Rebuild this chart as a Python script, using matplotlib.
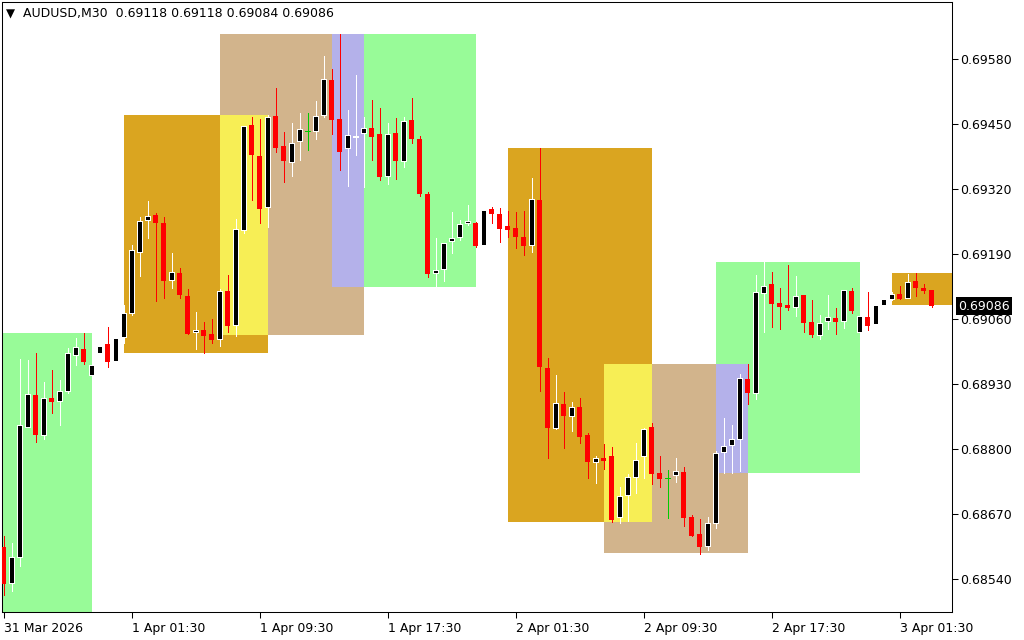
import numpy as np
import matplotlib.pyplot as plt
from matplotlib.patches import Rectangle
from matplotlib.transforms import blended_transform_factory

plt.rcParams['font.family'] = ['DejaVu Sans']

symbol = 'AUDUSD,M30'

# M30 candles, oldest first (31 Mar 17:30 onwards)
opens = [0.68604, 0.68532, 0.68584, 0.68844, 0.68908, 0.68828, 0.68902, 0.68896, 0.68916, 0.68988,
         0.69000, 0.68948, 0.68992, 0.69010, 0.68976, 0.69024, 0.69072, 0.69194, 0.69258, 0.69268,
         0.69252, 0.69138, 0.69152, 0.69106, 0.69034, 0.69038, 0.69030, 0.69020, 0.69116, 0.69048,
         0.69238, 0.69448, 0.69386, 0.69284, 0.69466, 0.69406, 0.69374, 0.69416, 0.69436, 0.69436,
         0.69468, 0.69538, 0.69460, 0.69402, 0.69424, 0.69432, 0.69442, 0.69430, 0.69346, 0.69432,
         0.69376, 0.69458, 0.69420, 0.69310, 0.69152, 0.69160, 0.69216, 0.69224, 0.69252, 0.69252,
         0.69208, 0.69280, 0.69270, 0.69246, 0.69242, 0.69224, 0.69208, 0.69298, 0.68962, 0.68842,
         0.68890, 0.68866, 0.68884, 0.68828, 0.68774, 0.68782, 0.68786, 0.68664, 0.68708, 0.68744,
         0.68786, 0.68844, 0.68752, 0.68742, 0.68748, 0.68754, 0.68664, 0.68630, 0.68606, 0.68652,
         0.68794, 0.68808, 0.68820, 0.68940, 0.68912, 0.69112, 0.69130, 0.69092, 0.69088, 0.69084,
         0.69108, 0.69054, 0.69028, 0.69056, 0.69062, 0.69056, 0.69116, 0.69034, 0.69064, 0.69050,
         0.69088, 0.69100, 0.69110, 0.69102, 0.69136, 0.69122, 0.69118]
highs = [0.68626, 0.68612, 0.68980, 0.68978, 0.68992, 0.68934, 0.68958, 0.68938, 0.69002, 0.69022,
         0.69032, 0.68970, 0.69008, 0.69044, 0.69024, 0.69088, 0.69208, 0.69264, 0.69296, 0.69272,
         0.69264, 0.69192, 0.69162, 0.69120, 0.69074, 0.69054, 0.69060, 0.69120, 0.69148, 0.69260,
         0.69446, 0.69464, 0.69460, 0.69468, 0.69522, 0.69434, 0.69452, 0.69472, 0.69472, 0.69496,
         0.69586, 0.69560, 0.69630, 0.69478, 0.69548, 0.69464, 0.69498, 0.69482, 0.69452, 0.69462,
         0.69464, 0.69502, 0.69426, 0.69314, 0.69222, 0.69212, 0.69274, 0.69258, 0.69288, 0.69254,
         0.69280, 0.69284, 0.69282, 0.69276, 0.69274, 0.69276, 0.69342, 0.69402, 0.68982, 0.68948,
         0.68914, 0.68894, 0.68902, 0.68832, 0.68786, 0.68810, 0.68804, 0.68724, 0.68750, 0.68812,
         0.68842, 0.68852, 0.68786, 0.68758, 0.68782, 0.68764, 0.68668, 0.68660, 0.68664, 0.68796,
         0.68862, 0.68848, 0.68950, 0.68970, 0.69148, 0.69174, 0.69154, 0.69122, 0.69168, 0.69146,
         0.69108, 0.69098, 0.69068, 0.69108, 0.69082, 0.69118, 0.69122, 0.69068, 0.69114, 0.69090,
         0.69102, 0.69114, 0.69126, 0.69150, 0.69152, 0.69130, 0.69118]
lows = [0.68508, 0.68516, 0.68566, 0.68844, 0.68814, 0.68820, 0.68872, 0.68848, 0.68912, 0.68968,
        0.68970, 0.68946, 0.68990, 0.68964, 0.68974, 0.69012, 0.69068, 0.69146, 0.69222, 0.69096,
        0.69102, 0.69122, 0.69102, 0.69030, 0.69000, 0.68992, 0.69012, 0.69006, 0.69034, 0.69026,
        0.69232, 0.69298, 0.69252, 0.69244, 0.69394, 0.69334, 0.69346, 0.69378, 0.69398, 0.69420,
        0.69464, 0.69430, 0.69358, 0.69326, 0.69388, 0.69324, 0.69378, 0.69338, 0.69330, 0.69340,
        0.69364, 0.69412, 0.69306, 0.69144, 0.69124, 0.69136, 0.69192, 0.69218, 0.69248, 0.69204,
        0.69206, 0.69252, 0.69214, 0.69224, 0.69202, 0.69188, 0.69194, 0.68916, 0.68782, 0.68840,
        0.68802, 0.68836, 0.68812, 0.68742, 0.68732, 0.68760, 0.68654, 0.68652, 0.68656, 0.68712,
        0.68742, 0.68730, 0.68724, 0.68662, 0.68734, 0.68646, 0.68626, 0.68590, 0.68598, 0.68642,
        0.68752, 0.68752, 0.68756, 0.68890, 0.68900, 0.69034, 0.69044, 0.69040, 0.69078, 0.69066,
        0.69034, 0.69024, 0.69020, 0.69040, 0.69030, 0.69042, 0.69072, 0.69032, 0.69038, 0.69048,
        0.69086, 0.69098, 0.69100, 0.69102, 0.69106, 0.69112, 0.69084]
closes = [0.68530, 0.68584, 0.68848, 0.68910, 0.68828, 0.68902, 0.68894, 0.68916, 0.68992, 0.69004,
          0.68974, 0.68968, 0.69006, 0.68974, 0.69022, 0.69072, 0.69198, 0.69256, 0.69266, 0.69252,
          0.69136, 0.69154, 0.69108, 0.69030, 0.69038, 0.69026, 0.69018, 0.69116, 0.69046, 0.69240,
          0.69446, 0.69388, 0.69280, 0.69464, 0.69402, 0.69376, 0.69412, 0.69440, 0.69436, 0.69466,
          0.69540, 0.69458, 0.69394, 0.69428, 0.69426, 0.69442, 0.69424, 0.69344, 0.69430, 0.69376,
          0.69456, 0.69420, 0.69310, 0.69150, 0.69158, 0.69212, 0.69222, 0.69250, 0.69256, 0.69206,
          0.69278, 0.69270, 0.69240, 0.69238, 0.69224, 0.69206, 0.69300, 0.68964, 0.68842, 0.68892,
          0.68866, 0.68884, 0.68824, 0.68774, 0.68782, 0.68776, 0.68658, 0.68706, 0.68744, 0.68778,
          0.68840, 0.68750, 0.68740, 0.68742, 0.68756, 0.68662, 0.68626, 0.68604, 0.68652, 0.68792,
          0.68806, 0.68820, 0.68942, 0.68912, 0.69114, 0.69126, 0.69090, 0.69084, 0.69082, 0.69106,
          0.69052, 0.69028, 0.69052, 0.69064, 0.69054, 0.69118, 0.69076, 0.69066, 0.69046, 0.69088,
          0.69100, 0.69110, 0.69100, 0.69134, 0.69122, 0.69116, 0.69086]

# session boxes (bar index range, high, low)
asia_start = [15, 63, 111]
asia_end = [33, 81, 129]
asia_high = [0.69468, 0.69402, 0.69152]
asia_low = [0.68992, 0.68654, 0.69088]

london_start = [27, 75]
london_end = [45, 93]
london_high = [0.69630, 0.68970]
london_low = [0.69028, 0.68592]

ny_start = [-7, 41, 89]
ny_end = [11, 59, 107]
ny_high = [0.69032, 0.69630, 0.69174]
ny_low = [0.68430, 0.69124, 0.68752]

time_ticks = [0, 16, 32, 48, 64, 80, 96, 112]
time_labels = ['31 Mar 2026', '1 Apr 01:30', '1 Apr 09:30', '1 Apr 17:30',
               '2 Apr 01:30', '2 Apr 09:30', '2 Apr 17:30', '3 Apr 01:30']
price_ticks = [0.68540, 0.68670, 0.68800, 0.68930, 0.69060, 0.69190, 0.69320, 0.69450, 0.69580]

c_asia = '#DAA520'
c_london = '#D2B48C'
c_ny = '#98FB98'
c_asia_london = '#F7EE55'
c_london_ny = '#B4B1EA'

W, H = 1024, 640
fig = plt.figure(figsize=(W / 100, H / 100), dpi=100)
ax = fig.add_axes([2 / W, 28 / H, 950 / W, 610 / H])
ax.set_xlim((2 - 3.5) / 8, (952 - 3.5) / 8)
ax.set_ylim(0.68474, 0.69694)


def box(x0, x1, lo, hi, color, z):
    ax.add_patch(Rectangle((x0, lo), x1 - x0, hi - lo, facecolor=color,
                           edgecolor='none', zorder=z, antialiased=False))


for s, e, hi, lo in zip(asia_start, asia_end, asia_high, asia_low):
    box(s, e, lo, hi, c_asia, 1)
for s, e, hi, lo in zip(london_start, london_end, london_high, london_low):
    box(s, e, lo, hi, c_london, 1)
for s, e, hi, lo in zip(ny_start, ny_end, ny_high, ny_low):
    box(s, e, lo, hi, c_ny, 1)


# overlaps get their own colour
def overlaps(a, b, color):
    for s1, e1, h1, l1 in zip(*a):
        for s2, e2, h2, l2 in zip(*b):
            x0, x1 = max(s1, s2), min(e1, e2)
            lo, hi = max(l1, l2), min(h1, h2)
            if x1 > x0 and hi > lo:
                box(x0, x1, lo, hi, color, 2)


overlaps((asia_start, asia_end, asia_high, asia_low),
         (london_start, london_end, london_high, london_low), c_asia_london)
overlaps((london_start, london_end, london_high, london_low),
         (ny_start, ny_end, ny_high, ny_low), c_london_ny)

# candles
o = np.array(opens)
h = np.array(highs)
l = np.array(lows)
c = np.array(closes)
x = np.arange(len(o))
up = c > o
dn = c < o
dj = c == o
lw = 0.6

ax.vlines(x[up], l[up], h[up], color='white', lw=lw, zorder=3, antialiased=False)
ax.vlines(x[dn], l[dn], h[dn], color='red', lw=lw, zorder=3, antialiased=False)
ax.vlines(x[dj], l[dj], h[dj], color='#00CC00', lw=lw, zorder=3, antialiased=False)
ax.bar(x[up], c[up] - o[up], bottom=o[up], width=0.6, color='black',
       edgecolor='white', linewidth=lw, zorder=4, antialiased=False)
ax.bar(x[dn], o[dn] - c[dn], bottom=c[dn], width=0.66, color='red',
       edgecolor='none', zorder=4, antialiased=False)
ax.hlines(c[dj], x[dj] - 0.33, x[dj] + 0.33, color='#00CC00', lw=lw, zorder=4,
          antialiased=False)

# axes look
for side in ['left', 'right', 'bottom', 'top']:
    ax.spines[side].set_linewidth(0.75)
    ax.spines[side].set_color('black')
ax.yaxis.tick_right()
ax.set_yticks(price_ticks)
ax.set_yticklabels(['%.5f' % p for p in price_ticks])
ax.tick_params(axis='y', direction='out', length=4, width=0.75, pad=2, labelsize=9)
ax.set_xticks(time_ticks)
ax.set_xticklabels(time_labels, ha='left')
ax.tick_params(axis='x', direction='out', length=4, width=0.75, pad=3, labelsize=9)

# current price tag
trans = blended_transform_factory(ax.transAxes, ax.transData)
ax.text(1.0 + 6 / 950, c[-1], '%.5f' % c[-1], transform=trans, ha='left', va='center',
        color='white', fontsize=9, zorder=6, clip_on=False,
        bbox=dict(boxstyle='square,pad=0.2', facecolor='black', edgecolor='none'))

# header
fig.text(6 / W, 1 - 14 / H, '\u25bc', fontsize=8.5, va='center', ha='left', color='black')
fig.text(23 / W, 1 - 14 / H,
         '%s  %.5f %.5f %.5f %.5f' % (symbol, o[-1], h[-1], l[-1], c[-1]),
         fontsize=9, va='center', ha='left', color='black')

fig.savefig('out.png', dpi=100, facecolor='white')
